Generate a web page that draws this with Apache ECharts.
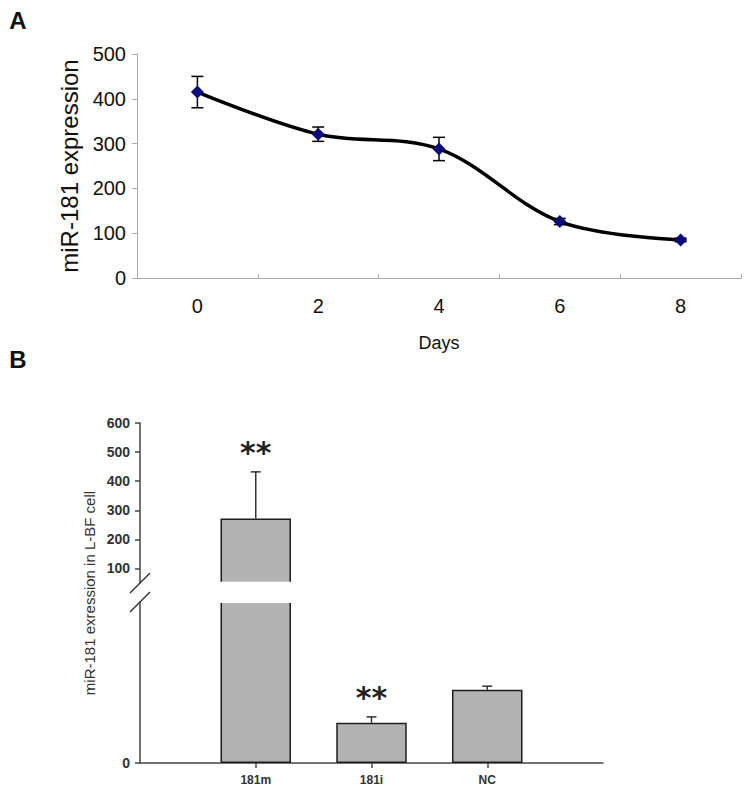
<!DOCTYPE html>
<html><head><meta charset="utf-8">
<script src="https://cdn.jsdelivr.net/npm/echarts@6/dist/echarts.min.js"></script>
<style>html,body{margin:0;padding:0;background:#fff}#c{width:750px;height:798px}</style>
</head><body><div id="c"></div>
<script>
// ---- Panel A data ----
const daysCategories = ['0', '2', '4', '6', '8'];
const expressionMeans = [415, 321, 288, 126, 85];
const expressionErrors = [35, 16, 26, 7, 4];

// ---- Panel B data ----
const groupCategories = ['', '181m', '181i', 'NC', ''];
const groupMeans = [null, 272, 0.55, 1.0, null];
const groupErrors = [null, 160, 0.08, 0.05, null];
const groupSignificance = ['', '**', '**', '', ''];
const upperTicks = [100, 200, 300, 400, 500, 600];
const lowerTicks = [0];

// ---- layout ----
const FONT = '"Liberation Sans", Arial, sans-serif';
const gA = { left: 137, top: 54, width: 604, height: 224 };
const gBu = { left: 140, top: 423, width: 463, height: 160 };
const gBl = { left: 140, top: 602, width: 463, height: 161 };
const upperMin = 50, upperMax = 600, lowerMin = 0, lowerMax = 2.2;

const chart = echarts.init(document.getElementById('c'), null, { renderer: 'svg' });

function renderErrA(params, api) {
  const i = api.value(0), m = api.value(1), e = api.value(2);
  const t = api.coord([i, m + e]), b = api.coord([i, m - e]);
  const hw = 6;
  const style = { stroke: '#000', lineWidth: 1.5, fill: null };
  return { type: 'group', children: [
    { type: 'line', shape: { x1: t[0], y1: t[1], x2: b[0], y2: b[1] }, style },
    { type: 'line', shape: { x1: t[0] - hw, y1: t[1], x2: t[0] + hw, y2: t[1] }, style },
    { type: 'line', shape: { x1: b[0] - hw, y1: b[1], x2: b[0] + hw, y2: b[1] }, style }
  ]};
}

function makeErrB(lo, hi) {
  return function (params, api) {
    const i = api.value(0), m = api.value(1), e = api.value(2);
    if (!(m > lo && m < hi)) return null;
    const b = api.coord([i, m]), t = api.coord([i, m + e]);
    const hw = 5;
    const style = { stroke: '#333', lineWidth: 1.5, fill: null };
    const children = [
      { type: 'line', shape: { x1: b[0], y1: b[1], x2: t[0], y2: t[1] }, style },
      { type: 'line', shape: { x1: t[0] - hw, y1: t[1], x2: t[0] + hw, y2: t[1] }, style }
    ];
    const sig = groupSignificance[i];
    if (sig) {
      children.push({ type: 'text', x: t[0], y: t[1] - 19,
        style: { text: sig, fill: '#222', fontSize: 30, fontWeight: 'bold', fontFamily: '"DejaVu Sans", sans-serif',
                 align: 'center', verticalAlign: 'middle', textAlign: 'center', textVerticalAlign: 'middle' } });
    }
    return { type: 'group', children };
  };
}

const errDataB = groupMeans.map((m, i) => m == null ? null : [i, m, groupErrors[i]]).filter(Boolean);
const upperBarData = groupMeans.map(v => (v != null && v > upperMin) ? v : null);

const barStyle = { color: '#b3b3b3', borderColor: '#1e1e1e', borderWidth: 1.5 };
const axisB = { lineStyle: { color: '#444', width: 1.5 } };

chart.setOption({
  animation: false,
  backgroundColor: '#fff',
  grid: [
    Object.assign({ outerBoundsMode: 'none', containLabel: false }, gA),
    Object.assign({ outerBoundsMode: 'none', containLabel: false }, gBu),
    Object.assign({ outerBoundsMode: 'none', containLabel: false }, gBl)
  ],
  xAxis: [
    { gridIndex: 0, type: 'category', data: daysCategories, boundaryGap: true,
      name: 'Days', nameLocation: 'middle', nameGap: 56,
      nameTextStyle: { fontSize: 18, color: '#111', fontFamily: FONT },
      axisLine: { lineStyle: { color: '#aaa', width: 1 } },
      axisTick: { show: true, inside: true, length: 4, lineStyle: { color: '#aaa' } },
      axisLabel: { fontSize: 20, color: '#111', fontFamily: FONT, margin: 18 },
      splitLine: { show: false } },
    { gridIndex: 1, type: 'category', data: groupCategories, boundaryGap: false, show: false },
    { gridIndex: 2, type: 'category', data: groupCategories, boundaryGap: false,
      axisLine: axisB,
      axisTick: { show: true, length: 5, interval: (i, v) => v !== '', lineStyle: { color: '#444', width: 1.5 } },
      axisLabel: { interval: 0, fontSize: 12, fontWeight: 'bold', color: '#333', fontFamily: FONT, margin: 11 },
      splitLine: { show: false } }
  ],
  yAxis: [
    { gridIndex: 0, type: 'value', min: 0, max: 500, interval: 100,
      name: 'miR-181 expression', nameLocation: 'middle', nameRotate: 90, nameGap: 52,
      nameTextStyle: { fontSize: 24, color: '#111', fontFamily: FONT },
      axisLine: { show: true, lineStyle: { color: '#aaa', width: 1 } },
      axisTick: { show: true, length: 5, lineStyle: { color: '#aaa' } },
      axisLabel: { fontSize: 20, color: '#111', fontFamily: FONT, margin: 11 },
      splitLine: { show: false } },
    { gridIndex: 1, type: 'value', min: upperMin, max: upperMax,
      axisLine: Object.assign({ show: true }, axisB),
      axisTick: { show: true, length: 5, customValues: upperTicks, lineStyle: { color: '#444', width: 1.5 } },
      axisLabel: { customValues: upperTicks, fontSize: 14, fontWeight: 'bold', color: '#333', fontFamily: FONT, margin: 10 },
      splitLine: { show: false } },
    { gridIndex: 2, type: 'value', min: lowerMin, max: lowerMax,
      axisLine: Object.assign({ show: true }, axisB),
      axisTick: { show: true, length: 5, customValues: lowerTicks, lineStyle: { color: '#444', width: 1.5 } },
      axisLabel: { customValues: lowerTicks, fontSize: 14, fontWeight: 'bold', color: '#333', fontFamily: FONT, margin: 10 },
      splitLine: { show: false } }
  ],
  series: [
    { type: 'custom', xAxisIndex: 0, yAxisIndex: 0, z: 2, renderItem: renderErrA,
      encode: { x: 0, y: 1 },
      data: expressionMeans.map((m, i) => [i, m, expressionErrors[i]]) },
    { type: 'line', xAxisIndex: 0, yAxisIndex: 0, z: 3, data: expressionMeans,
      smooth: 0.35, symbol: 'diamond', symbolSize: 13, showSymbol: true,
      lineStyle: { color: '#000', width: 3.5 },
      itemStyle: { color: '#0a0a78' } },
    { type: 'bar', xAxisIndex: 1, yAxisIndex: 1, data: upperBarData, barWidth: 70.5,
      itemStyle: barStyle, z: 2 },
    { type: 'bar', xAxisIndex: 2, yAxisIndex: 2, data: groupMeans, barWidth: 70.5,
      itemStyle: barStyle, z: 2 },
    { type: 'custom', xAxisIndex: 1, yAxisIndex: 1, z: 1, renderItem: makeErrB(upperMin, upperMax),
      encode: { x: 0, y: 1 }, data: errDataB },
    { type: 'custom', xAxisIndex: 2, yAxisIndex: 2, z: 1, renderItem: makeErrB(lowerMin, lowerMax),
      encode: { x: 0, y: 1 }, data: errDataB }
  ],
  graphic: [
    // gap of the broken axis
    { type: 'rect', z: 100, shape: { x: gBu.left + 1, y: gBu.top + gBu.height - 1.2,
        width: gBu.width, height: gBl.top - (gBu.top + gBu.height) + 2.2 },
      style: { fill: '#fff' } },
    { type: 'line', z: 101, shape: { x1: gBu.left - 10, y1: gBu.top + gBu.height + 10, x2: gBu.left + 10, y2: gBu.top + gBu.height - 10 },
      style: { stroke: '#333', lineWidth: 1.5 } },
    { type: 'line', z: 101, shape: { x1: gBl.left - 10, y1: gBl.top + 10, x2: gBl.left + 10, y2: gBl.top - 10 },
      style: { stroke: '#333', lineWidth: 1.5 } },
    { type: 'text', z: 101, x: 89, y: (gBu.top + gBl.top + gBl.height) / 2, rotation: Math.PI / 2,
      style: { text: 'miR-181 exression in L-BF cell', fontSize: 15, fontFamily: FONT, fill: '#333',
               align: 'center', verticalAlign: 'middle', textAlign: 'center', textVerticalAlign: 'middle' } },
    { type: 'text', z: 101, x: 18, y: 20,
      style: { text: 'A', fontSize: 24, fontWeight: 'bold', fontFamily: FONT, fill: '#111',
               align: 'center', verticalAlign: 'middle', textAlign: 'center', textVerticalAlign: 'middle' } },
    { type: 'text', z: 101, x: 18, y: 359,
      style: { text: 'B', fontSize: 24, fontWeight: 'bold', fontFamily: FONT, fill: '#111',
               align: 'center', verticalAlign: 'middle', textAlign: 'center', textVerticalAlign: 'middle' } }
  ]
});
</script></body></html>
